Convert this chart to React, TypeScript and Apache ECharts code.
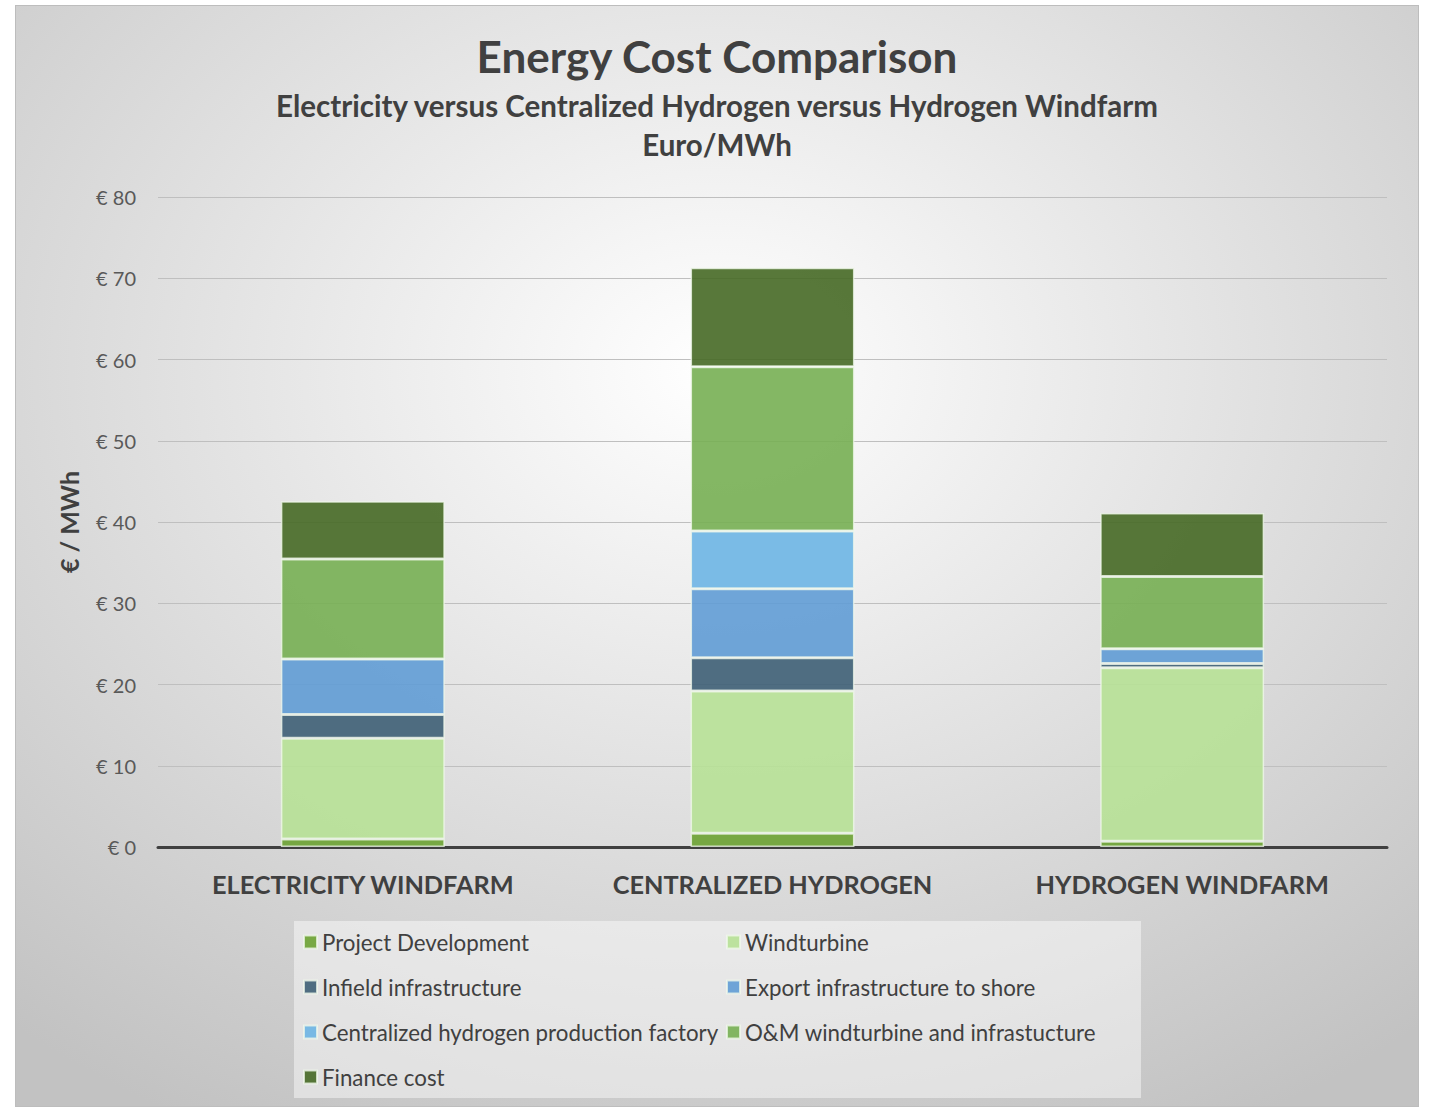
import React, { useEffect, useRef } from "react";
import * as echarts from "echarts";

// Cost breakdown per concept, in euro per MWh
const categories = ["ELECTRICITY WINDFARM", "CENTRALIZED HYDROGEN", "HYDROGEN WINDFARM"];
const projectDevelopment = [1.0, 1.7, 0.7];
const windturbine = [12.4, 17.5, 21.35];
const infieldInfrastructure = [2.9, 4.1, 0.55];
const exportInfrastructure = [6.85, 8.5, 1.8];
const hydrogenFactory = [0, 7.1, 0];
const omCost = [12.3, 20.2, 8.9];
const financeCost = [7.1, 12.2, 7.8];
const yTicks = [0, 10, 20, 30, 40, 50, 60, 70, 80];

const seriesDefs = [
  { name: "Project Development", data: projectDevelopment, color: "#6ca232" },
  { name: "Windturbine", data: windturbine, color: "#b7e196" },
  { name: "Infield infrastructure", data: infieldInfrastructure, color: "#3e5f75" },
  { name: "Export infrastructure to shore", data: exportInfrastructure, color: "#609cd5" },
  { name: "Centralized hydrogen production factory", data: hydrogenFactory, color: "#6db5e4" },
  { name: "O&M windturbine and infrastucture", data: omCost, color: "#77af53" },
  { name: "Finance cost", data: financeCost, color: "#466925" },
];

const FONT = "Lato, 'Open Sans', sans-serif";
const TEXT = "#404040";

export default function App() {
  const ref = useRef<HTMLDivElement>(null);

  useEffect(() => {
    if (!ref.current) return;
    const chart = echarts.init(ref.current, null, { renderer: "svg" });

    // legend laid out in two columns, four rows
    const colX = [287, 710];
    const rowY = [937, 982, 1027, 1072];
    const legends = seriesDefs.map((s, i) => ({
      data: [s.name],
      left: colX[i % 2],
      top: rowY[Math.floor(i / 2)] - 14,
      padding: 0,
      itemWidth: 13,
      itemHeight: 13,
      icon: "rect",
      selectedMode: false,
      textStyle: {
        fontFamily: FONT,
        fontSize: 22.3,
        color: TEXT,
        lineHeight: 26,
        padding: [0, 0, 0, 0],
      },
    }));

    chart.setOption({
      animation: false,
      backgroundColor: {
        type: "radial",
        x: 0.5,
        y: 0.33,
        r: 0.78,
        colorStops: [
          { offset: 0, color: "#ffffff" },
          { offset: 1, color: "#c2c2c2" },
        ],
      },
      textStyle: { fontFamily: FONT },
      title: [
        {
          text: "Energy Cost Comparison",
          left: "center",
          top: 24,
          padding: 0,
          textStyle: { fontFamily: FONT, fontSize: 44, fontWeight: "bold", color: TEXT, lineHeight: 52 },
        },
        {
          text: "Electricity versus Centralized Hydrogen versus Hydrogen Windfarm",
          left: "center",
          top: 82,
          padding: 0,
          textStyle: { fontFamily: FONT, fontSize: 29.5, fontWeight: "bold", color: TEXT, lineHeight: 34 },
        },
        {
          text: "Euro/MWh",
          left: "center",
          top: 121,
          padding: 0,
          textStyle: { fontFamily: FONT, fontSize: 29.5, fontWeight: "bold", color: TEXT, lineHeight: 34 },
        },
      ],
      graphic: [
        {
          type: "rect",
          z: -10,
          shape: { x: 278, y: 915, width: 847, height: 177 },
          style: { fill: "rgba(255,255,255,0.45)" },
        },
      ],
      legend: legends,
      grid: { left: 142, right: 31, top: 191, bottom: 259, containLabel: false },
      xAxis: {
        type: "category",
        data: categories,
        axisTick: { show: false },
        axisLine: { lineStyle: { color: "#404040", width: 3 } },
        axisLabel: {
          interval: 0,
          margin: 24,
          fontFamily: FONT,
          fontSize: 25.3,
          fontWeight: "bold",
          color: TEXT,
        },
      },
      yAxis: {
        type: "value",
        min: yTicks[0],
        max: yTicks[yTicks.length - 1],
        interval: 10,
        name: "€ / MWh",
        nameLocation: "middle",
        nameGap: 77,
        nameTextStyle: { fontFamily: FONT, fontSize: 25, fontWeight: "bold", color: TEXT },
        axisLine: { show: false },
        axisTick: { show: false },
        axisLabel: {
          margin: 22,
          fontFamily: FONT,
          fontSize: 20,
          color: "#595959",
          formatter: (v: number) => `€ ${v}`,
        },
        splitLine: { lineStyle: { color: "#bfbfbf", width: 1 } },
      },
      series: seriesDefs.map((s) => ({
        name: s.name,
        type: "bar",
        stack: "cost",
        data: s.data,
        barCategoryGap: "60%",
        itemStyle: {
          color: s.color,
          opacity: 0.9,
          borderColor: "rgba(240,248,235,0.85)",
          borderWidth: 1.5,
        },
      })),
    });

    return () => chart.dispose();
  }, []);

  return (
    <div
      ref={ref}
      style={{
        position: "absolute",
        left: 15,
        top: 5,
        width: 1404,
        height: 1102,
        boxSizing: "border-box",
        border: "1px solid #bdbdbd",
      }}
    />
  );
}
